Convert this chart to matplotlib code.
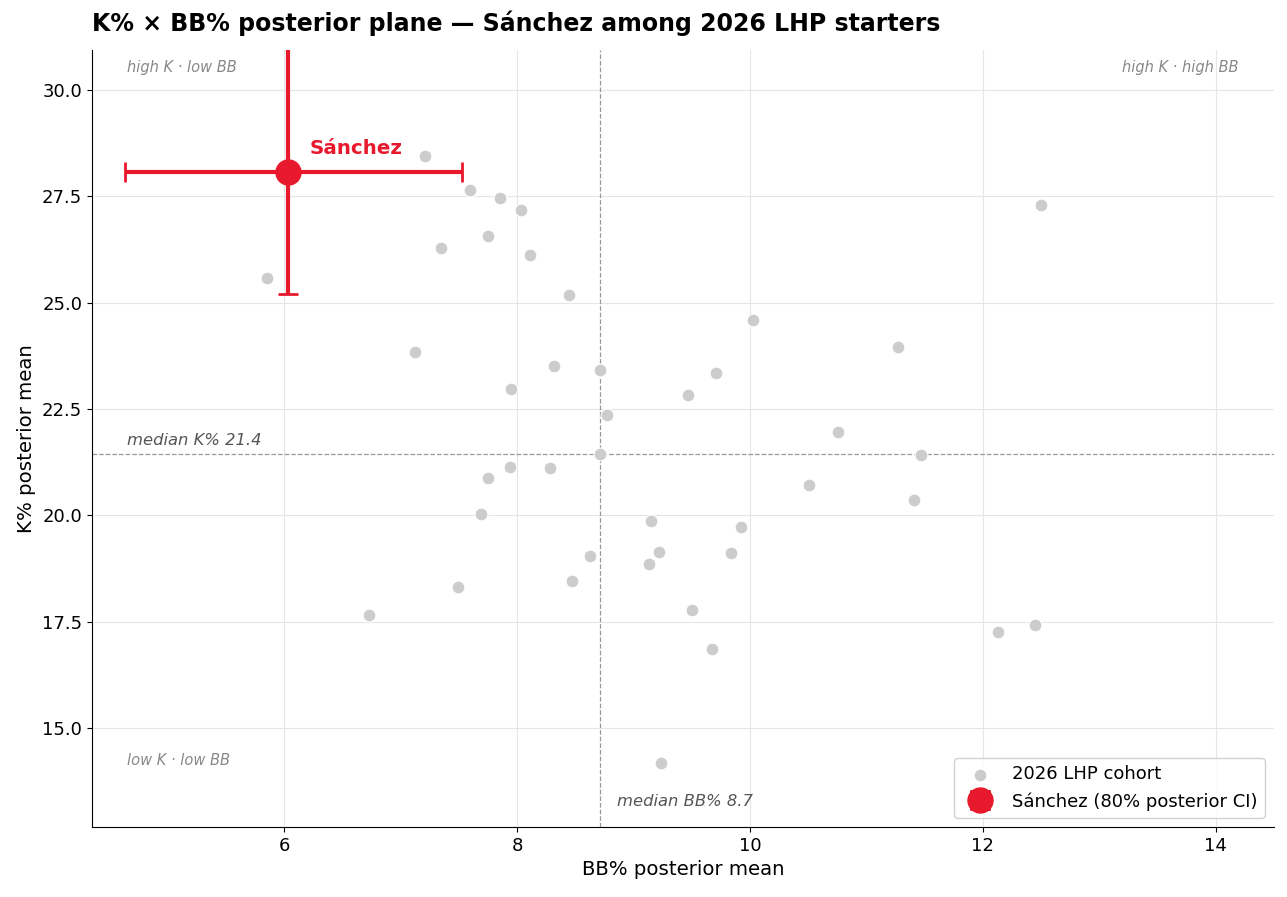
import numpy as np
import matplotlib.pyplot as plt

# cohort posterior means (BB%, K%)
bb_mean = [5.85, 7.21, 7.60, 7.85, 8.03, 7.35, 7.75, 8.11, 8.45, 12.50,
           10.03, 11.27, 7.12, 8.32, 8.71, 9.71, 7.95, 9.47, 8.77, 10.76,
           8.71, 11.47, 7.94, 8.28, 7.75, 10.51, 11.41, 7.69, 9.15, 9.92,
           9.22, 9.84, 8.63, 9.13, 8.47, 7.49, 6.73, 9.50, 12.13, 12.45,
           9.67, 9.24]
k_mean = [25.58, 28.45, 27.65, 27.46, 27.18, 26.29, 26.57, 26.12, 25.18, 27.30,
          24.59, 23.96, 23.84, 23.51, 23.42, 23.35, 22.97, 22.83, 22.36, 21.96,
          21.44, 21.42, 21.14, 21.11, 20.88, 20.71, 20.36, 20.03, 19.87, 19.73,
          19.14, 19.11, 19.04, 18.85, 18.45, 18.31, 17.66, 17.77, 17.26, 17.42,
          16.86, 14.18]

# Sanchez posterior mean and 80% interval
sanchez_bb = 6.03
sanchez_k = 28.07
sanchez_bb_ci = [4.63, 7.53]
sanchez_k_ci = [25.20, 31.80]

median_bb = 8.71
median_k = 21.44

RED = '#e8192c'

fig = plt.figure(figsize=(12.87, 8.97), dpi=100)
ax = fig.add_axes([0.0715, 0.078, 0.9184, 0.8663])

ax.grid(True, color='#e6e6e6', linewidth=0.8, zorder=0)
ax.set_axisbelow(True)

ax.axvline(median_bb, color='#999999', linestyle='--', linewidth=0.9, zorder=1)
ax.axhline(median_k, color='#999999', linestyle='--', linewidth=0.9, zorder=1)

ax.scatter(bb_mean, k_mean, s=85, color='#cccccc', edgecolor='white',
           linewidth=0.8, zorder=2, label='2026 LHP cohort')

xerr = [[sanchez_bb - sanchez_bb_ci[0]], [sanchez_bb_ci[1] - sanchez_bb]]
yerr = [[sanchez_k - sanchez_k_ci[0]], [sanchez_k_ci[1] - sanchez_k]]
ax.errorbar([sanchez_bb], [sanchez_k], xerr=xerr, yerr=yerr, fmt='o',
            color=RED, markersize=18, elinewidth=3, capsize=7, capthick=2,
            zorder=4, label='Sánchez (80% posterior CI)')
ax.annotate('Sánchez', (sanchez_bb, sanchez_k), xytext=(16, 17),
            textcoords='offset points', color=RED, fontsize=14.3,
            fontweight='bold', va='center', ha='left')

ax.set_xlim(4.35, 14.5)
ax.set_ylim(12.67, 30.94)
ax.set_xticks([6, 8, 10, 12, 14])
ax.set_yticks([15.0, 17.5, 20.0, 22.5, 25.0, 27.5, 30.0])
ax.tick_params(labelsize=13)

ax.text(0.03, median_k + 0.15, 'median K% 21.4', fontsize=11.8, style='italic',
        color='#555555', va='bottom', ha='left',
        transform=ax.get_yaxis_transform())
ax.text(median_bb + 0.15, 0.033, 'median BB% 8.7', fontsize=11.8, style='italic',
        color='#555555', va='center', ha='left',
        transform=ax.get_xaxis_transform())

ax.text(0.03, 0.978, 'high K · low BB', transform=ax.transAxes, fontsize=10.5,
        style='italic', color='#888888', va='center', ha='left')
ax.text(0.97, 0.978, 'high K · high BB', transform=ax.transAxes, fontsize=10.5,
        style='italic', color='#888888', va='center', ha='right')
ax.text(0.03, 0.086, 'low K · low BB', transform=ax.transAxes, fontsize=10.5,
        style='italic', color='#888888', va='center', ha='left')

ax.spines['top'].set_visible(False)
ax.spines['right'].set_visible(False)

ax.set_xlabel('BB% posterior mean', fontsize=14.2)
ax.set_ylabel('K% posterior mean', fontsize=14.2)
ax.set_title('K% × BB% posterior plane — Sánchez among 2026 LHP starters',
             loc='left', fontsize=17, fontweight='bold', pad=14)

ax.legend(loc='lower right', fontsize=13, framealpha=0.9)

fig.savefig('out.png', dpi=100)
